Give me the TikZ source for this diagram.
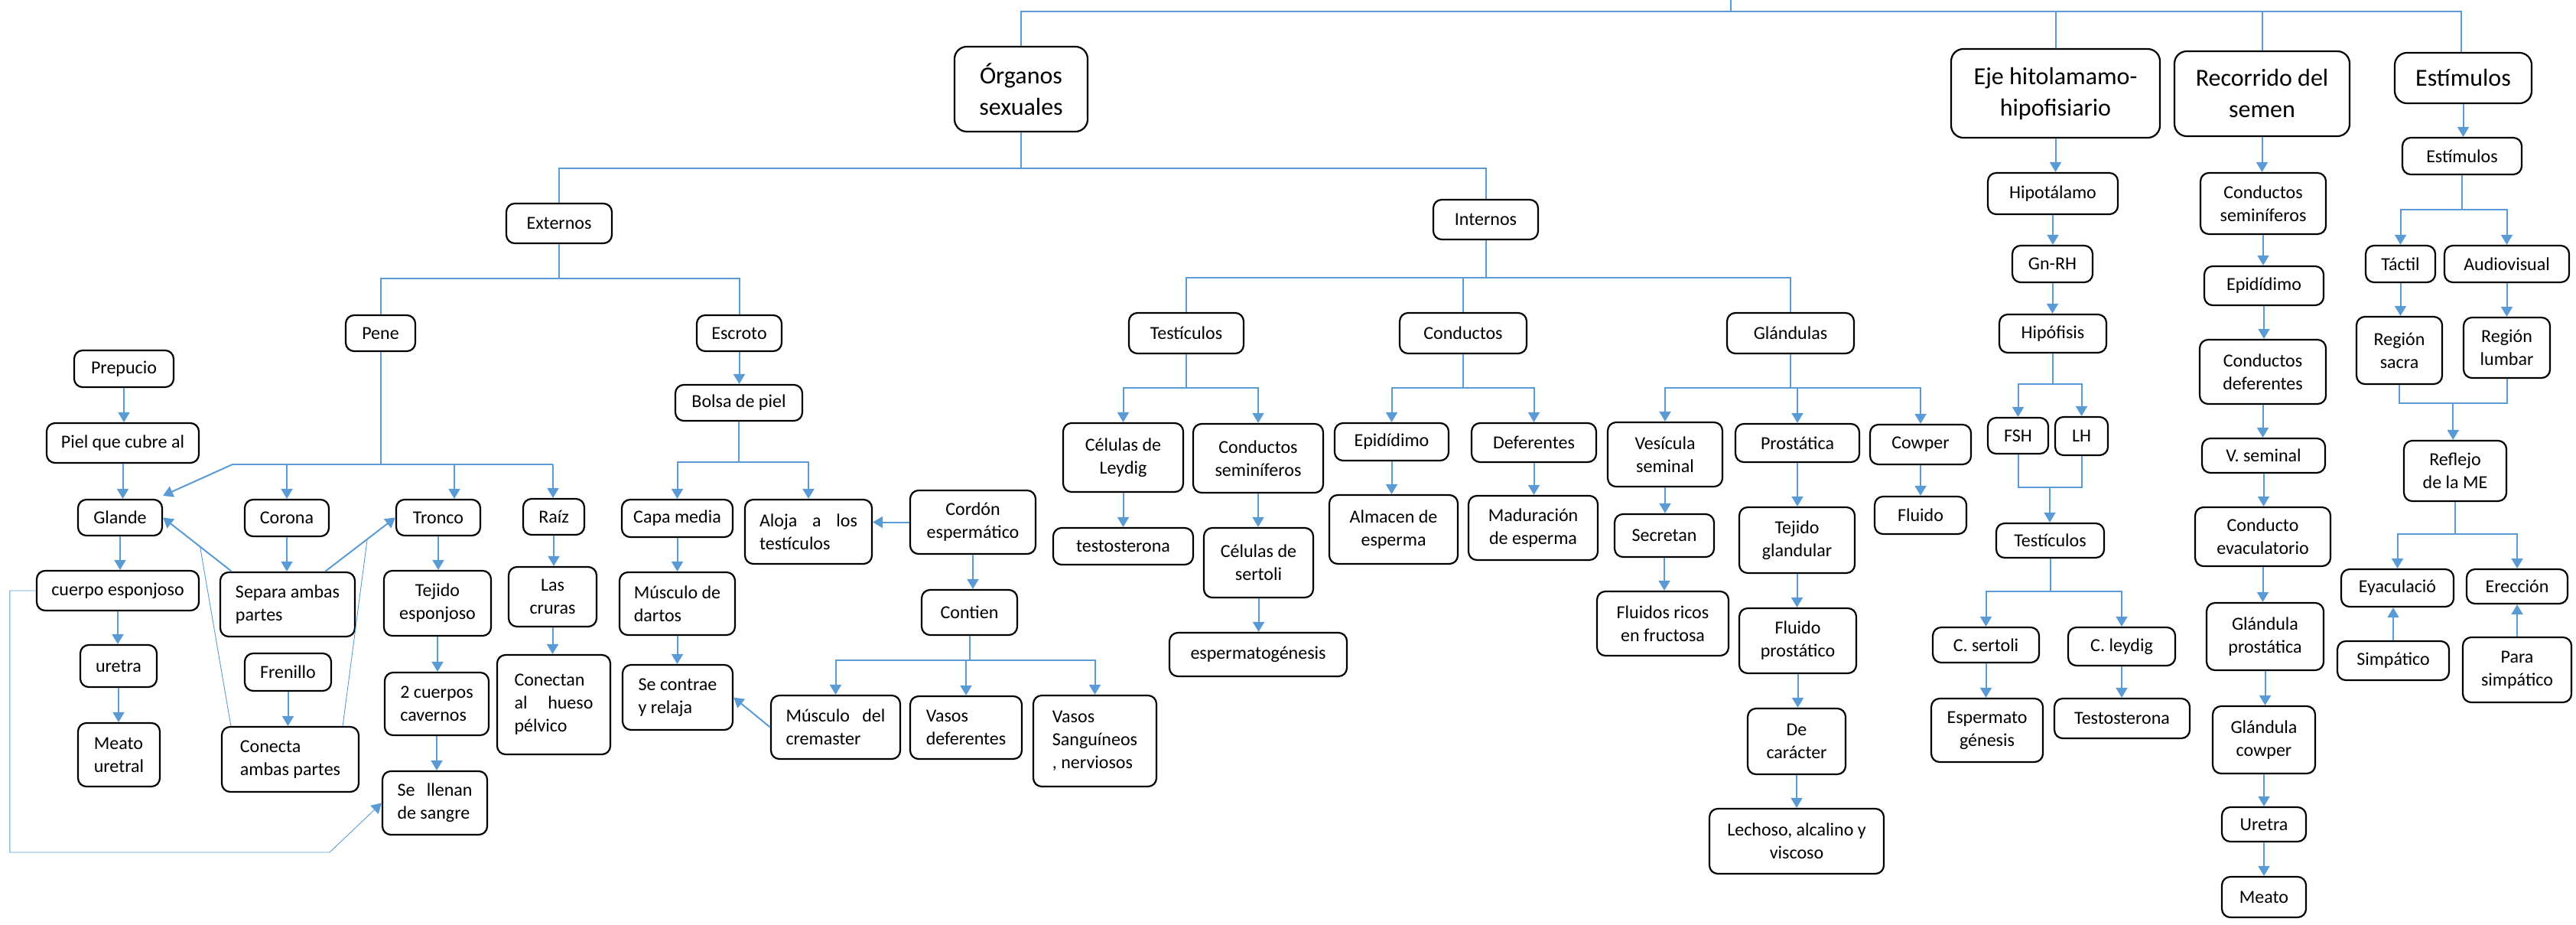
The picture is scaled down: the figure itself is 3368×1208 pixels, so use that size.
\documentclass[tikz,border=0pt]{standalone}
\usepackage{fontspec}
\setmainfont{Carlito}
\usetikzlibrary{arrows.meta,calc}
\definecolor{lb}{HTML}{5B9BD5}
\newcommand\jl[2]{\makebox[#1pt][s]{#2}}
\newcommand\bx[6][]{\node[bxs,#1,minimum width={(#4-#2)*1pt},minimum height={(#5-#3)*1pt}] (#6) at ({(#2+#4)/2},{(#3+#5)/2})}
\newcommand\dn[2]{\draw[ar] (#1.south) -- (#1.south |- #2.north);}
\tikzset{
 bxs/.style={draw=black, line width=2.2pt, rounded corners=11pt, fill=white, inner sep=2pt, align=center, font=\fontsize{24}{30}\selectfont},
 hdr/.style={rounded corners=16pt, font=\fontsize{32}{41}\selectfont},
 ln/.style={draw=lb, line width=2pt},
 ar/.style={ln, -{Triangle[length=13pt,width=15pt]}},
 thn/.style={draw=lb, line width=0.9pt},
 thar/.style={thn, -{Triangle[length=13pt,width=15pt]}},
}
\begin{document}
\begin{tikzpicture}[x=1pt,y=-1pt]
\useasboundingbox (0,0) rectangle (3368,1208);
% ---------- headers
\bx[hdr]{1248}{61}{1422}{172}{org} {Órganos\\sexuales};
\bx[hdr]{2551}{64}{2824}{180}{eje} {Eje hitolamamo-\\hipofisiario};
\bx[hdr]{2843}{67}{3072}{178}{rec} {Recorrido del\\semen};
\bx[hdr]{3131}{69}{3310}{135}{est} {Estímulos};
% ---------- externos
\bx{662}{266}{800}{318}{ext} {Externos};
\bx{452}{412}{543}{459}{pene} {Pene};
\bx{97}{458}{227}{506}{prep} {Prepucio};
\bx{61}{553}{260}{605}{piel} {Piel que cubre al};
\bx{102}{653}{212}{700}{glande} {Glande};
\bx{320}{653}{430}{701}{corona} {Corona};
\bx{518}{653}{628}{700}{tronco} {Tronco};
\bx{684}{652}{764}{699}{raiz} {Raíz};
\bx{48}{746}{260}{798}{cesp} {cuerpo esponjoso};
\bx[align=left]{288}{748}{464}{832}{sep} {Separa ambas\\partes};
\bx{502}{746}{642}{831}{tejesp} {Tejido\\esponjoso};
\bx{665}{741}{780}{819}{cruras} {Las\\cruras};
\bx{105}{843}{205}{898}{uretra} {uretra};
\bx[align=left]{102}{945}{209}{1028}{meatou} {Meato\\uretral};
\bx{320}{854}{433}{903}{fren} {Frenillo};
\bx[align=left]{290}{950}{469}{1035}{conecta} {Conecta\\ambas partes};
\bx[align=left]{503}{879}{639}{961}{cuerpos} {2 cuerpos\\cavernos};
\bx[align=left]{500}{1008}{637}{1091}{llenan} {\jl{98}{Se llenan}\\de sangre};
\bx[align=left]{650}{856}{798}{986}{conectan} {Conectan\\\jl{103}{al hueso}\\pélvico};
\bx{911}{412}{1022}{459}{escr} {Escroto};
\bx{883}{503}{1049}{550}{bolsa} {Bolsa de piel};
\bx{813}{653}{958}{702}{capa} {Capa media};
\bx[align=left]{974}{653}{1140}{737}{aloja} {\jl{128}{Aloja a los}\\testículos};
\bx{1190}{641}{1354}{724}{cordon} {Cordón\\espermático};
\bx{1205}{771}{1330}{830}{contien} {Contien};
\bx[align=left]{810}{748}{961}{830}{dartos} {Músculo de\\dartos};
\bx[align=left]{814}{869}{958}{954}{contrae} {Se contrae\\y relaja};
\bx[align=left]{1008}{909}{1177}{992}{crem} {\jl{130}{Músculo del}\\cremaster};
\bx[align=left]{1190}{910}{1336}{992}{vdef} {Vasos\\deferentes};
\bx[align=left]{1351}{909}{1512}{1028}{vsang} {Vasos\\Sanguíneos\\, nerviosos};
% ---------- internos
\bx{1874}{261}{2011}{313}{int} {Internos};
\bx{1476}{409}{1626}{462}{test} {Testículos};
\bx{1830}{409}{1996}{462}{cond} {Conductos};
\bx{2258}{409}{2424}{462}{gland} {Glándulas};
\bx{1390}{553}{1547}{643}{leydig} {Células de\\Leydig};
\bx{1560}{554}{1730}{644}{csem} {Conductos\\seminíferos};
\bx{1377}{690}{1560}{738}{testo} {testosterona};
\bx{1574}{690}{1717}{781}{sertoli} {Células de\\sertoli};
\bx{1529}{827}{1761}{884}{espg} {espermatogénesis};
\bx{1745}{553}{1894}{602}{epi} {Epidídimo};
\bx{1924}{553}{2087}{604}{def} {Deferentes};
\bx{1738}{647}{1906}{737}{alm} {Almacen de\\esperma};
\bx{1920}{648}{2089}{732}{mad} {Maduración\\de esperma};
\bx{2102}{552}{2252}{636}{ves} {Vesícula\\seminal};
\bx{2269}{554}{2431}{604}{prost} {Prostática};
\bx{2445}{555}{2577}{607}{cowp} {Cowper};
\bx{2111}{672}{2241}{728}{secr} {Secretan};
\bx{2274}{663}{2425}{749}{tejg} {Tejido\\glandular};
\bx{2451}{649}{2571}{698}{fluc} {Fluido};
\bx{2088}{773}{2260}{857}{fric} {Fluidos ricos\\en fructosa};
\bx{2274}{795}{2427}{880}{fprost} {Fluido\\prostático};
\bx{2285}{926}{2413}{1012}{carac} {De\\carácter};
\bx{2235}{1057}{2463}{1142}{lech} {Lechoso, alcalino y\\viscoso};
% ---------- eje
\bx{2599}{226}{2769}{280}{hipot} {Hipotálamo};
\bx{2631}{321}{2736}{369}{gnrh} {Gn-RH};
\bx{2614}{411}{2754}{461}{hipof} {Hipófisis};
\bx{2599}{546}{2678}{593}{fsh} {FSH};
\bx{2687}{545}{2756}{595}{lh} {LH};
\bx{2610}{684}{2751}{729}{tr2} {Testículos};
\bx{2527}{820}{2666}{866}{csr} {C. sertoli};
\bx{2704}{820}{2844}{870}{clr} {C. leydig};
\bx{2525}{913}{2671}{996}{espmg} {Espermato\\génesis};
\bx{2686}{913}{2863}{965}{testoR} {Testosterona};
% ---------- recorrido
\bx{2877}{226}{3041}{306}{csemR} {Conductos\\seminíferos};
\bx{2882}{348}{3038}{399}{epiR} {Epidídimo};
\bx{2876}{444}{3041}{528}{cdef} {Conductos\\deferentes};
\bx{2879}{573}{3040}{618}{vsem} {V. seminal};
\bx{2870}{663}{3047}{740}{cevac} {Conducto\\evaculatorio};
\bx{2885}{788}{3038}{876}{gprost} {Glándula\\prostática};
\bx{2893}{923}{3027}{1011}{gcow} {Glándula\\cowper};
\bx{2905}{1055}{3015}{1100}{uretraR} {Uretra};
\bx{2905}{1146}{3015}{1199}{meatoR} {Meato};
% ---------- estimulos
\bx{3141}{180}{3297}{228}{est2} {Estímulos};
\bx{3093}{321}{3184}{369}{tact} {Táctil};
\bx{3196}{321}{3359}{369}{audio} {Audiovisual};
\bx{3081}{414}{3193}{502}{rsac} {Región\\sacra};
\bx{3221}{415}{3334}{494}{rlum} {Región\\lumbar};
\bx{3143}{576}{3277}{655}{refl} {Reflejo\\de la ME};
\bx{3061}{744}{3208}{793}{eyac} {Eyaculació};
\bx{3225}{744}{3357}{789}{erec} {Erección};
\bx{3056}{838}{3202}{889}{simp} {Simpático};
\bx{3220}{833}{3362}{918}{para} {Para\\simpático};
% ================= connectors
\coordinate (root) at (2263,0);
\coordinate (rootb) at (2263,15);
\coordinate (tr) at (3218,15);
\draw[ln] (root) -- (rootb);
\draw[ln] (org.north) |- (tr) -- (tr |- est.north);
\draw[ln] (eje.north) -- (eje.north |- tr);
\draw[ln] (rec.north) -- (rec.north |- tr);
% organos
\coordinate (hy) at (0,220);
\draw[ln] (org.south) -- (org.south |- hy);
\draw[ln] (ext.north) |- (int.north |- hy) -- (int.north);
% externos
\coordinate (ey) at (0,364);
\draw[ln] (ext.south) -- (ext.south |- ey);
\draw[ln] (pene.north) |- (escr.north |- ey) -- (escr.north);
% pene
\coordinate (py) at (0,607);
\coordinate (pl) at (304,607);
\coordinate (pr) at (723,607);
\coordinate (tx) at (594,607);
\draw[ln] (pene.south) -- (pene.south |- py);
\draw[ln] (pl) -- (pr);
\draw[ar] (pl) -- ($(glande.north east)+(0,-4)$);
\draw[ar] (corona.north |- py) -- (corona.north);
\draw[ar] (tx) -- (tx |- tronco.north);
\draw[ar] (pr) -- (pr |- raiz.north);
\dn{prep}{piel}
\dn{piel}{glande}
\dn{glande}{cesp}
\dn{cesp}{uretra}
\dn{uretra}{meatou}
\dn{corona}{sep}
\dn{fren}{conecta}
\dn{tronco}{tejesp}
\dn{tejesp}{cuerpos}
\dn{cuerpos}{llenan}
\dn{raiz}{cruras}
\dn{cruras}{conectan}
\coordinate (sa) at ($(sep.north west)+(16,0)$);
\coordinate (sb) at ($(sep.north east)+(-40,0)$);
\draw[ar] (sa) -- (glande.east);
\draw[ar] (sb) -- (tronco.west);
\draw[thn] ($(conecta.north west)+(13,0)$) -- ($(sa)!0.46!(glande.east)$);
\draw[thn] ($(conecta.north east)+(-22,0)$) -- ($(sb)!0.6!(tronco.west)$);
\coordinate (lp) at (431,1114);
\draw[thar] (cesp.west) -- ++(-34,0) |- (lp) -- (llenan.west);
% escroto
\coordinate (by) at (0,604);
\dn{escr}{bolsa}
\draw[ln] (bolsa.south) -- (bolsa.south |- by);
\draw[ar] (bolsa.south |- by) -| (capa.north);
\draw[ar] (bolsa.south |- by) -| (aloja.north);
\dn{capa}{dartos}
\dn{dartos}{contrae}
\draw[ar] (cordon.west) -- (cordon.west -| aloja.east);
\dn{cordon}{contien}
\coordinate (cy) at (0,863);
\draw[ln] (contien.south) -- (contien.south |- cy);
\draw[ar] (contien.south |- cy) -| (crem.north);
\draw[ar] (contien.south |- cy) -| (vdef.north);
\draw[ar] (contien.south |- cy) -| (vsang.north);
\draw[ar] (crem.west) -- (contrae.east);
% internos
\coordinate (iy) at (0,363);
\coordinate (ty) at (0,507);
\draw[ln] (int.south) -- (int.south |- iy);
\draw[ln] (test.north) |- (gland.north |- iy) -- (gland.north);
\draw[ln] (cond.north) -- (cond.north |- iy);
\draw[ln] (test.south) -- (test.south |- ty);
\draw[ar] (test.south |- ty) -| (leydig.north);
\draw[ar] (test.south |- ty) -| (csem.north);
\dn{leydig}{testo}
\dn{csem}{sertoli}
\dn{sertoli}{espg}
\draw[ln] (cond.south) -- (cond.south |- ty);
\draw[ar] (cond.south |- ty) -| (epi.north);
\draw[ar] (cond.south |- ty) -| (def.north);
\dn{epi}{alm}
\dn{def}{mad}
\draw[ln] (gland.south) -- (gland.south |- ty);
\draw[ar] (gland.south |- ty) -| (ves.north);
\draw[ar] (gland.south |- ty) -| (prost.north);
\draw[ar] (gland.south |- ty) -| (cowp.north);
\dn{ves}{secr}
\dn{secr}{fric}
\dn{prost}{tejg}
\dn{tejg}{fprost}
\dn{fprost}{carac}
\dn{carac}{lech}
\dn{cowp}{fluc}
% eje
\dn{eje}{hipot}
\dn{hipot}{gnrh}
\dn{gnrh}{hipof}
\coordinate (hy2) at (0,502);
\draw[ln] (hipof.south) -- (hipof.south |- hy2);
\draw[ar] (hipof.south |- hy2) -| (fsh.north);
\draw[ar] (hipof.south |- hy2) -| (lh.north);
\coordinate (fy) at (0,637);
\draw[ln] (fsh.south) |- (lh.south |- fy) -- (lh.south);
\coordinate (fm) at ($(fsh.south |- fy)!0.5!(lh.south |- fy)$);
\draw[ar] (fm) -- (fm |- tr2.north);
\coordinate (sy) at (0,773);
\draw[ln] (tr2.south) -- (tr2.south |- sy);
\draw[ar] (tr2.south |- sy) -| (csr.north);
\draw[ar] (tr2.south |- sy) -| (clr.north);
\dn{csr}{espmg}
\dn{clr}{testoR}
% recorrido
\dn{rec}{csemR}
\dn{csemR}{epiR}
\dn{epiR}{cdef}
\dn{cdef}{vsem}
\dn{vsem}{cevac}
\dn{cevac}{gprost}
\dn{gprost}{gcow}
\dn{gcow}{uretraR}
\dn{uretraR}{meatoR}
% estimulos
\dn{est}{est2}
\coordinate (ay) at (0,274);
\draw[ln] (est2.south) -- (est2.south |- ay);
\draw[ar] (est2.south |- ay) -| (tact.north);
\draw[ar] (est2.south |- ay) -| (audio.north);
\dn{tact}{rsac}
\dn{audio}{rlum}
\coordinate (jy) at (0,527);
\draw[ln] (rsac.south) |- (rlum.south |- jy) -- (rlum.south);
\coordinate (jm) at ($(rsac.south |- jy)!0.5!(rlum.south |- jy)$);
\draw[ar] (jm) -- (jm |- refl.north);
\coordinate (ry) at (0,698);
\draw[ln] (refl.south) -- (refl.south |- ry);
\draw[ar] (refl.south |- ry) -| (eyac.north);
\draw[ar] (refl.south |- ry) -| (erec.north);
\draw[ar] (simp.north) -- (simp.north |- eyac.south);
\draw[ar] (para.north) -- (para.north |- erec.south);
\end{tikzpicture}
\end{document}
